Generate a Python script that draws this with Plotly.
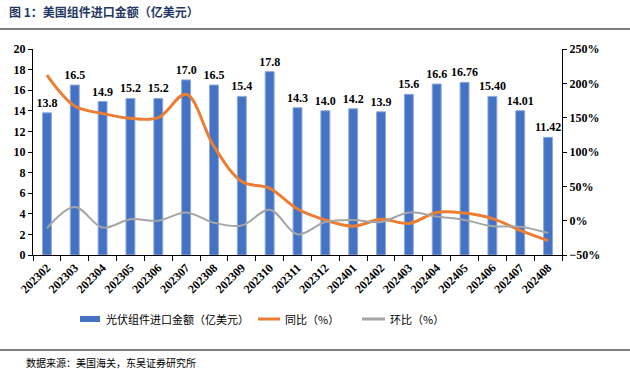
import plotly.graph_objects as go

months = ["202302", "202303", "202304", "202305", "202306", "202307", "202308",
          "202309", "202310", "202311", "202312", "202401", "202402", "202403",
          "202404", "202405", "202406", "202407", "202408"]
import_value = [13.8, 16.5, 14.9, 15.2, 15.2, 17.0, 16.5, 15.4, 17.8, 14.3,
                14.0, 14.2, 13.9, 15.6, 16.6, 16.76, 15.40, 14.01, 11.42]
value_labels = ["13.8", "16.5", "14.9", "15.2", "15.2", "17.0", "16.5", "15.4",
                "17.8", "14.3", "14.0", "14.2", "13.9", "15.6", "16.6", "16.76",
                "15.40", "14.01", "11.42"]
yoy = [212, 167, 156, 149, 150, 184, 108, 57, 47, 17,
       1, -8, 2, -4, 12, 11, 3, -14, -29]
mom = [-11, 20, -10, 2, 0, 12, -3, -7, 16, -20,
       -2, 1, -2, 12, 6, 1, -8, -9, -18]

bar_name = "光伏组件进口金额（亿美元）"
yoy_name = "同比（%）"
mom_name = "环比（%）"

BLUE = "#4472C4"
ORANGE = "#ED7D31"
GRAY = "#A5A5A5"
SERIF = "Liberation Serif"
CJK = "Noto Sans CJK SC"

fig = go.Figure()
fig.add_trace(go.Bar(
    x=months, y=import_value, name=bar_name, width=0.32,
    marker=dict(color=BLUE, line=dict(color="#8EA9DB", width=1)),
    text=value_labels, textposition="outside", cliponaxis=False,
    constraintext="none",
    textfont=dict(family=SERIF, size=12, color="#000000", weight="bold"),
    yaxis="y",
))
fig.add_trace(go.Scatter(
    x=months, y=yoy, name=yoy_name, mode="lines",
    line=dict(color=ORANGE, width=3, shape="spline", smoothing=1.0),
    yaxis="y2",
))
fig.add_trace(go.Scatter(
    x=months, y=mom, name=mom_name, mode="lines",
    line=dict(color=GRAY, width=2, shape="spline", smoothing=1.0),
    yaxis="y2",
))

L, R, T, B = 33, 68, 49, 114
W, H = 630, 369
pw, ph = W - L - R, H - T - B


def px(xp):
    return (xp - L) / pw


def py(yp):
    return (H - B - yp) / ph


shapes = [
    dict(type="line", xref="paper", yref="paper", x0=px(0), x1=px(630),
         y0=py(29), y1=py(29), line=dict(color="#808080", width=2)),
    dict(type="line", xref="paper", yref="paper", x0=px(0), x1=px(630),
         y0=py(350), y1=py(350), line=dict(color="#555555", width=1.5)),
    dict(type="rect", xref="paper", yref="paper", x0=px(80), x1=px(100),
         y0=py(322), y1=py(316), fillcolor=BLUE, line=dict(width=0)),
    dict(type="line", xref="paper", yref="paper", x0=px(258), x1=px(280),
         y0=py(319), y1=py(319), line=dict(color=ORANGE, width=3)),
    dict(type="line", xref="paper", yref="paper", x0=px(362), x1=px(385),
         y0=py(319), y1=py(319), line=dict(color=GRAY, width=3)),
]

annotations = [
    dict(text="<b>图 1：美国组件进口金额（亿美元）</b>", xref="paper", yref="paper",
         x=px(7), y=py(11), xanchor="left", yanchor="middle", showarrow=False,
         font=dict(family=CJK, size=12, color="#1F3864")),
    dict(text=bar_name, xref="paper", yref="paper", x=px(104), y=py(319),
         xanchor="left", yanchor="middle", showarrow=False,
         font=dict(family=CJK, size=11, color="#000000")),
    dict(text=yoy_name, xref="paper", yref="paper", x=px(283), y=py(319),
         xanchor="left", yanchor="middle", showarrow=False,
         font=dict(family=CJK, size=11, color="#000000")),
    dict(text=mom_name, xref="paper", yref="paper", x=px(388), y=py(319),
         xanchor="left", yanchor="middle", showarrow=False,
         font=dict(family=CJK, size=11, color="#000000")),
    dict(text="数据来源：美国海关，东吴证券研究所", xref="paper", yref="paper",
         x=px(24), y=py(362), xanchor="left", yanchor="middle", showarrow=False,
         font=dict(family=CJK, size=10, color="#000000")),
]

tf = dict(family=SERIF, size=12, color="#000000", weight="bold")

fig.update_layout(
    width=W, height=H,
    margin=dict(l=L, r=R, t=T, b=B, autoexpand=False),
    paper_bgcolor="white", plot_bgcolor="white",
    showlegend=False,
    bargap=0.68,
    shapes=shapes, annotations=annotations,
    xaxis=dict(type="category", showgrid=False, showline=True,
               linecolor="#000000", linewidth=1, ticks="outside",
               tickson="boundaries", ticklen=5, tickcolor="#000000",
               tickangle=-45, tickfont=tf),
    yaxis=dict(range=[0, 20], dtick=2, showgrid=False, zeroline=False,
               showline=True, linecolor="#000000", linewidth=1,
               ticks="outside", ticklen=4, tickcolor="#000000", tickfont=tf),
    yaxis2=dict(range=[-50, 250], dtick=50, ticksuffix="%", overlaying="y",
                side="right", showgrid=False, zeroline=False, showline=True,
                linecolor="#000000", linewidth=1, ticks="outside", ticklen=4,
                tickcolor="#000000", tickfont=tf),
)

fig.write_html("out.html", config={"displayModeBar": False},
               post_script="document.body.style.margin='0';document.body.style.padding='0';")
